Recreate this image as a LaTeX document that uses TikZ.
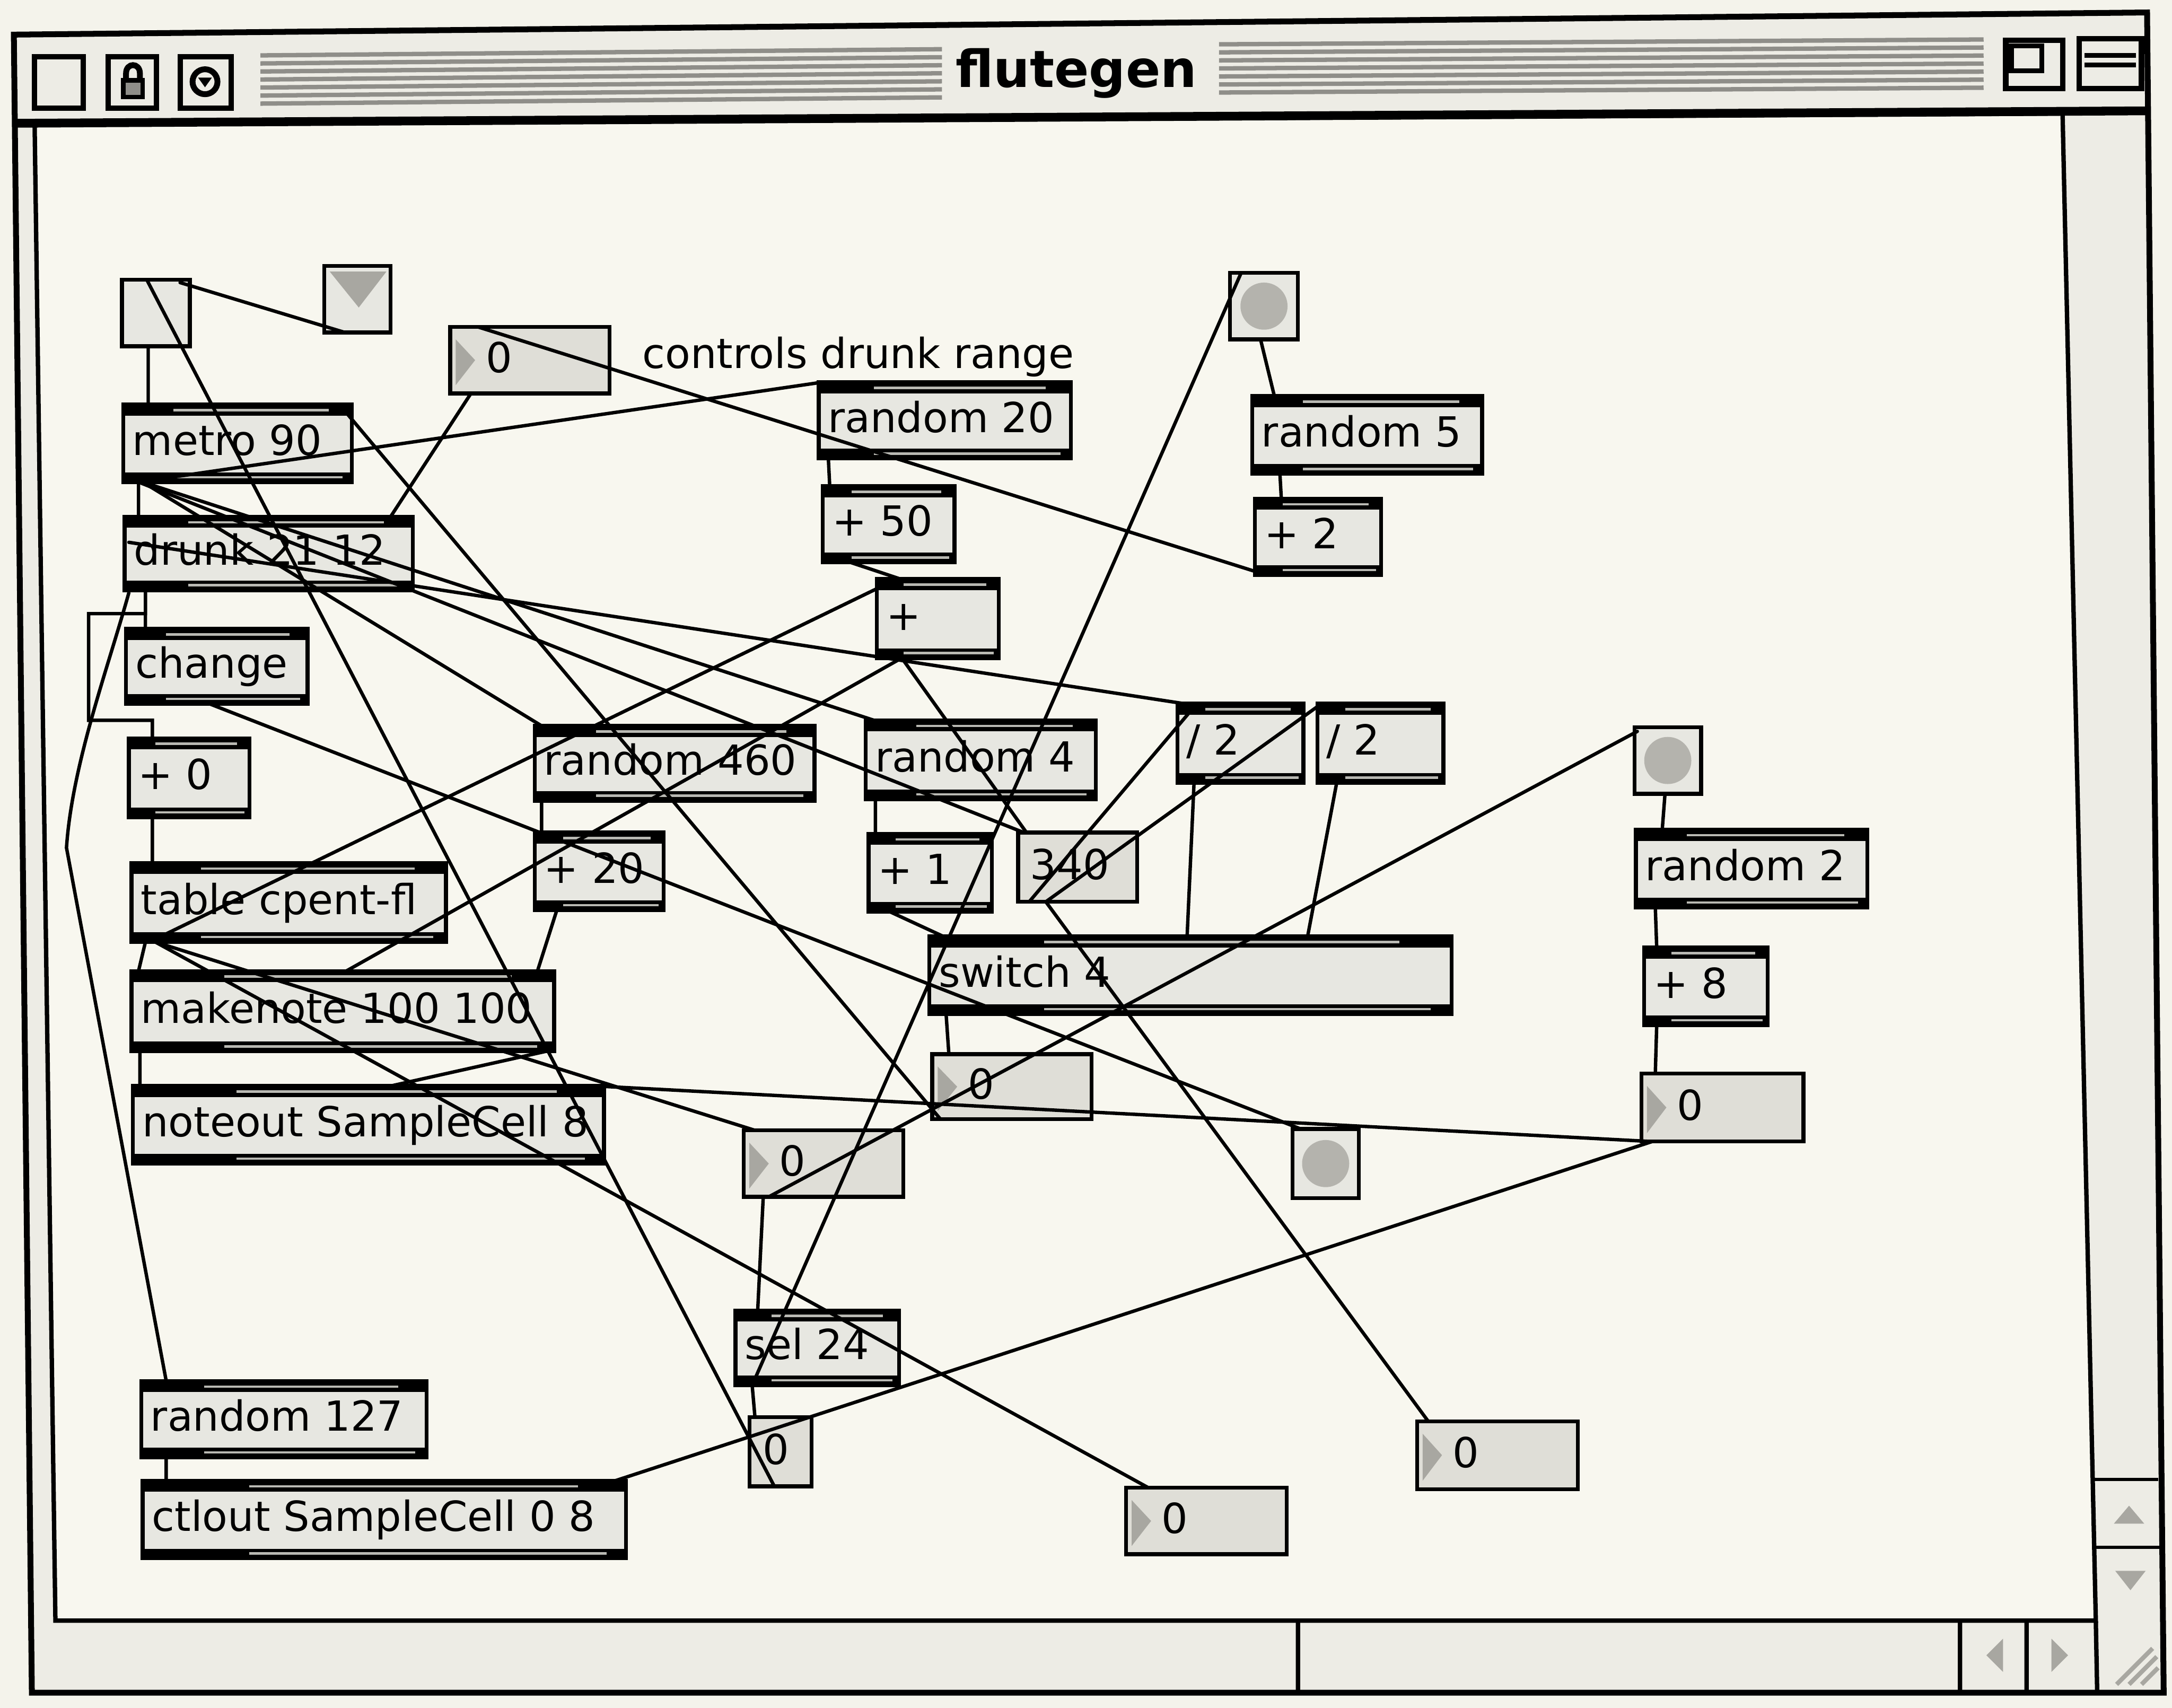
\documentclass[tikz,border=0pt]{standalone}
\usepackage{fontspec}
\setmainfont{DejaVu Sans}
\usetikzlibrary{calc}
\definecolor{pagebg}{HTML}{F4F3EB}
\definecolor{canvas}{HTML}{F8F7EF}
\definecolor{boxfill}{HTML}{E7E7E1}
\definecolor{numfill}{HTML}{DFDED7}
\definecolor{trigray}{HTML}{A8A7A1}
\definecolor{bangray}{HTML}{B4B3AD}
\definecolor{chrome}{HTML}{EDECE5}
\definecolor{stripecol}{HTML}{8F8E89}
\definecolor{lightband}{HTML}{B9B9B3}
\tikzset{
 objbox/.style={draw=black,line width=0.8pt,fill=boxfill,inner sep=0pt,outer sep=0pt,rectangle},
 numbox/.style={draw=black,line width=0.8pt,fill=numfill,inner sep=0pt,outer sep=0pt,rectangle},
 plainbox/.style={draw=black,line width=0.8pt,fill=boxfill,inner sep=0pt,outer sep=0pt,rectangle},
 txt/.style={anchor=base west,inner sep=0pt,font=\fontsize{8.5}{10}\selectfont},
 cord/.style={line width=0.7pt,draw=black,line cap=round},
 bandline/.style={line width=0.5pt,draw=lightband},
 stripeline/.style={line width=0.9pt,draw=stripecol},
}
\newcommand{\mobj}[6]{%
  \pgfmathsetmacro\mw{(#4-#2)*0.01}\pgfmathsetmacro\mh{(#5-#3)*0.01}%
  \node[objbox,minimum width=\mw cm,minimum height=\mh cm] (#1) at ({(#2+#4)/2},{(#3+#5)/2}) {};
  \fill (#1.north west) rectangle ($(#1.north east)+(0,8)$);
  \fill (#1.south west) rectangle ($(#1.south east)+(0,-7)$);
  \draw[bandline] ($(#1.north west)!0.22!(#1.north east)+(0,4)$) -- ($(#1.north west)!0.9!(#1.north east)+(0,4)$);
  \draw[bandline] ($(#1.south west)!0.22!(#1.south east)+(0,-3.5)$) -- ($(#1.south west)!0.96!(#1.south east)+(0,-3.5)$);
  \node[txt] (#1t) at ($(#1.west)+(6,8.5)$) {#6};
}
\newcommand{\mnum}[6]{%
  \pgfmathsetmacro\mw{(#4-#2)*0.01}\pgfmathsetmacro\mh{(#5-#3)*0.01}%
  \node[numbox,minimum width=\mw cm,minimum height=\mh cm] (#1) at ({(#2+#4)/2},{(#3+#5)/2}) {};
  \fill[trigray] ($(#1.north west)+(4,9)$) -- ($(#1.south west)+(4,-6)$) -- ($(#1.west)+(18,0)$) -- cycle;
  \node[txt] (#1t) at ($(#1.west)+(25,9)$) {#6};
}
\newcommand{\mthin}[7]{%
  \pgfmathsetmacro\mw{(#4-#2)*0.01}\pgfmathsetmacro\mh{(#5-#3)*0.01}%
  \node[numbox,minimum width=\mw cm,minimum height=\mh cm] (#1) at ({(#2+#4)/2},{(#3+#5)/2}) {};
  \node[txt] (#1t) at ($(#1.west)+(#7,9)$) {#6};
}
\newcommand{\mbang}[5]{%
  \pgfmathsetmacro\mw{(#4-#2)*0.01}\pgfmathsetmacro\mh{(#5-#3)*0.01}%
  \node[plainbox,minimum width=\mw cm,minimum height=\mh cm] (#1) at ({(#2+#4)/2},{(#3+#5)/2}) {};
  \fill[bangray] (#1.center) circle (17);
}
\newcommand{\mplain}[5]{%
  \pgfmathsetmacro\mw{(#4-#2)*0.01}\pgfmathsetmacro\mh{(#5-#3)*0.01}%
  \node[plainbox,minimum width=\mw cm,minimum height=\mh cm] (#1) at ({(#2+#4)/2},{(#3+#5)/2}) {};
}
\begin{document}
\begin{tikzpicture}[x=0.01cm,y=-0.01cm]
\fill[pagebg] (0,0) rectangle (1568,1233);
\useasboundingbox (0,0) rectangle (1568,1233);
% window
\fill[chrome] (10,25) -- (1550,9) -- (1562,1222) -- (23,1222) -- cycle;
\fill[canvas] (25,90) -- (1489,82) -- (1513,1170) -- (40,1170) -- cycle;
\draw[line width=0.9pt] (25,90) -- (1489,82) -- (1513,1170) -- (40,1170) -- cycle;
\draw[line width=1.8pt] (10,89) -- (1552,80);
\draw[line width=1.2pt] (10,25) -- (1550,9) -- (1562,1222) -- (23,1222) -- cycle;
% title bar stripes
\foreach \i in {0,...,6}{
  \draw[stripeline] (188,{40+5.8*\i}) -- (680,{35.5+5.8*\i});
  \draw[stripeline] (880,{32+5.8*\i}) -- (1432,{28.5+5.8*\i});
}
\node[font=\fontsize{10.5}{12}\selectfont\bfseries,anchor=base,inner sep=0pt] (title) at (777,63) {flutegen};
% title bar boxes
\draw[line width=1.1pt,fill=chrome] (25,41) rectangle (60,78);
\draw[line width=1.1pt,fill=chrome] (78,41) rectangle (113,78);
\draw[line width=0.9pt,fill=stripecol] (89,58) rectangle (103,70);
\draw[line width=1.2pt] (91,58) -- (91,53) .. controls (91,45) and (101,45) .. (101,53) -- (101,58);
\draw[line width=1.1pt,fill=chrome] (130,41) rectangle (167,78);
\draw[line width=1.2pt] (148,59) circle (9);
\fill (143,56) -- (153,56) -- (148,63) -- cycle;
\draw[line width=1.1pt,fill=chrome] (1448,29) rectangle (1489,64);
\draw[line width=1pt] (1452,33) rectangle (1474,51);
\draw[line width=1.1pt,fill=chrome] (1501,28) rectangle (1546,64);
\draw[line width=1pt] (1505,40) -- (1542,40) (1505,47) -- (1542,47);
% scrollbars
\draw[line width=0.7pt] (1511,1068) -- (1558,1068) (1512,1117) -- (1559,1117);
\fill[trigray] (1526,1100) -- (1548,1100) -- (1537,1087) -- cycle;
\fill[trigray] (1527,1134) -- (1549,1134) -- (1538,1148) -- cycle;
\draw[line width=0.9pt] (937,1170) -- (937,1222) (1415,1170) -- (1415,1222) (1463,1170) -- (1463,1222) (1513,1170) -- (1514,1222);
\fill[trigray] (1446,1183) -- (1446,1207) -- (1434,1195) -- cycle;
\fill[trigray] (1481,1183) -- (1481,1207) -- (1493,1195) -- cycle;
\draw[line width=0.9pt,draw=trigray] (1528,1216) -- (1554,1190) (1537,1216) -- (1557,1196) (1546,1216) -- (1558,1204);
% objects
\mplain{tog}{88}{202}{137}{250}
\mplain{tri}{234}{192}{282}{240}
\fill[trigray] (238,196) -- (279,196) -- (259,222) -- cycle;
\mnum{numA}{325}{236}{440}{284}{0}
\node[txt] (cmt) at (463,266) {controls drunk range};
\mobj{metro}{89}{292}{254}{348}{metro 90}
\mobj{drunk}{90}{373}{298}{426}{drunk 21 12}
\mobj{change}{91}{454}{222}{508}{change}
\mobj{plusz}{93}{533}{180}{590}{+ 0}
\mobj{table}{95}{623}{322}{680}{table cpent-fl}
\mobj{makenote}{95}{701}{400}{759}{makenote 100 100}
\mobj{noteout}{96}{784}{436}{840}{noteout SampleCell 8}
\mobj{randx}{102}{997}{308}{1052}{random 127}
\mobj{ctlout}{103}{1069}{452}{1125}{ctlout SampleCell 0 8}
\mobj{randt}{591}{276}{773}{331}{random 20}
\mobj{plusf}{594}{351}{689}{406}{+ 50}
\mobj{plus}{633}{418}{721}{475}{+}
\mbang{bangA}{888}{197}{937}{245}
\mobj{randf}{904}{286}{1070}{342}{random 5}
\mobj{plustw}{906}{360}{997}{415}{+ 2}
\mobj{randh}{386}{524}{588}{578}{random 460}
\mobj{plustwz}{386}{601}{479}{657}{+ 20}
\mobj{randfour}{625}{520}{791}{577}{random 4}
\mobj{divA}{850}{508}{941}{565}{/ 2}
\mobj{divB}{951}{508}{1042}{565}{/ 2}
\mobj{plusone}{627}{602}{716}{658}{+ 1}
\mthin{nthree}{735}{601}{821}{651}{340}{8}
\mobj{switch}{671}{676}{1048}{732}{switch 4}
\mnum{numM}{673}{761}{788}{808}{0}
\mbang{bangB}{1180}{525}{1228}{573}
\mobj{randtwo}{1181}{599}{1348}{655}{random 2}
\mobj{pluseight}{1187}{684}{1276}{740}{+ 8}
\mnum{numR}{1185}{775}{1302}{824}{0}
\mnum{numL}{537}{816}{652}{864}{0}
\mbang{bangC}{933}{815}{981}{865}
\mobj{sel}{531}{946}{649}{1000}{sel 24}
\mthin{smallz}{541}{1023}{586}{1073}{0}{9}
\mnum{numBot}{813}{1074}{929}{1122}{0}
\mnum{numBR}{1023}{1026}{1139}{1075}{0}
% cords
\draw[cord] ($(tog.south west)+(19,0)$) -- ($(metro.north west)+(18,0)$);
\draw[cord] ($(tri.south west)+(15,0)$) -- ($(tog.north west)+(42,2)$);
\draw[cord] ($(tog.north west)+(18,0)$) -- ($(smallz.south west)+(18,0)$);
\draw[cord] ($(plustw.south west)+(8,0)$) -- ($(numA.north west)+(20,0)$);
\draw[cord] ($(numA.south west)+(15,0)$) -- ($(drunk.north east)+(-16,0)$);
\draw[cord] ($(metro.south west)+(11,0)$) -- ($(randt.north west)+(2,0)$);
\draw[cord] ($(metro.south west)+(11,0)$) -- ($(drunk.north west)+(10,0)$);
\draw[cord] ($(randt.south west)+(7,0)$) -- ($(plusf.north west)+(5,0)$);
\draw[cord] ($(plusf.south west)+(20,0)$) -- ($(plus.north west)+(17,0)$);
\draw[cord] ($(sel.south west)+(12,0)$) -- ($(bangA.north west)+(8,0)$);
\draw[cord] ($(bangA.south west)+(22,0)$) -- ($(randf.north west)+(16,0)$);
\draw[cord] ($(randf.south west)+(20,0)$) -- ($(plustw.north west)+(19,0)$);
\draw[cord] ($(table.south west)+(13,0)$) -- ($(plus.north west)+(2,6)$);
\draw[cord] ($(plus.south west)+(18,0)$) -- ($(nthree.north west)+(6,0)$);
\draw[cord] ($(plus.south west)+(18,0)$) -- ($(makenote.north west)+(155,0)$);
\draw[cord] ($(change.south west)+(60,0)$) -- ($(bangC.north west)+(6,0)$);
\draw[cord] ($(numM.south west)+(6,0)$) -- ($(metro.north east)+(-9,0)$);
\draw[cord] ($(metro.south west)+(14,0)$) -- ($(randfour.north west)+(6,0)$);
\draw[cord] ($(metro.south west)+(14,0)$) -- ($(randh.north west)+(5,0)$);
\draw[cord] ($(metro.south west)+(11,0)$) -- ($(nthree.north west)+(4,0)$);
\draw[cord] ($(drunk.west)+(3,-8)$) -- ($(divA.north west)+(5,0)$);
\draw[cord] ($(drunk.south west)+(15,0)$) -- ($(change.north west)+(14,0)$);
\draw[cord] ($(drunk.south west)+(15,0)$) -- ++(0,17) -- ++(-41,0) -- ++(0,77) -- ++(46,0) -- ($(plusz.north west)+(17,0)$);
\draw[cord] ($(drunk.south west)+(3,2)$) .. controls (78,482) and (52,552) .. (48,612) -- ($(randx.north west)+(18,0)$);
\draw[cord] ($(plusz.south west)+(17,0)$) -- ($(table.north west)+(15,0)$);
\draw[cord] ($(table.south west)+(10,0)$) -- ($(makenote.north west)+(5,0)$);
\draw[cord] ($(makenote.south west)+(6,0)$) -- ($(noteout.north west)+(5,0)$);
\draw[cord] ($(randx.south west)+(18,0)$) -- ($(ctlout.north west)+(17,0)$);
\draw[cord] ($(table.south west)+(17,0)$) -- ($(numL.north west)+(8,0)$);
\draw[cord] ($(table.south west)+(17,0)$) -- ($(numBot.north west)+(16,0)$);
\draw[cord] ($(makenote.south east)+(-6,0)$) -- ($(noteout.north west)+(186,0)$);
\draw[cord] ($(plustwz.south west)+(16,0)$) -- ($(makenote.north east)+(-12,0)$);
\draw[cord] ($(randh.south west)+(5,0)$) -- ($(plustwz.north west)+(5,0)$);
\draw[cord] ($(randfour.south west)+(7,0)$) -- ($(plusone.north west)+(5,0)$);
\draw[cord] ($(plusone.south west)+(15,0)$) -- ($(switch.north west)+(10,0)$);
\draw[cord] ($(divA.south west)+(12,0)$) -- ($(switch.north west)+(186,0)$);
\draw[cord] ($(divB.south west)+(14,0)$) -- ($(switch.north west)+(273,0)$);
\draw[cord] ($(nthree.south west)+(8,0)$) -- ($(divA.north west)+(14,0)$);
\draw[cord] ($(nthree.south west)+(20,0)$) -- ($(divB.north west)+(3,0)$);
\draw[cord] ($(nthree.south west)+(20,0)$) -- ($(numBR.north west)+(8,0)$);
\draw[cord] ($(switch.south west)+(12,0)$) -- ($(numM.north west)+(12,0)$);
\draw[cord] ($(numL.south west)+(18,0)$) -- ($(bangB.north west)+(2,3)$);
\draw[cord] ($(numL.south west)+(14,0)$) -- ($(sel.north west)+(16,0)$);
\draw[cord] ($(sel.south west)+(12,0)$) -- ($(smallz.north west)+(4,0)$);
\draw[cord] ($(bangB.south west)+(22,0)$) -- ($(randtwo.north west)+(19,0)$);
\draw[cord] ($(randtwo.south west)+(14,0)$) -- ($(pluseight.north west)+(9,0)$);
\draw[cord] ($(pluseight.south west)+(9,0)$) -- ($(numR.north west)+(10,0)$);
\draw[cord] ($(numR.south west)+(8,0)$) -- ($(ctlout.north east)+(-8,0)$);
\draw[cord] ($(numR.south west)+(6,0)$) -- ($(noteout.north east)+(-6,0)$);
\end{tikzpicture}
\end{document}
